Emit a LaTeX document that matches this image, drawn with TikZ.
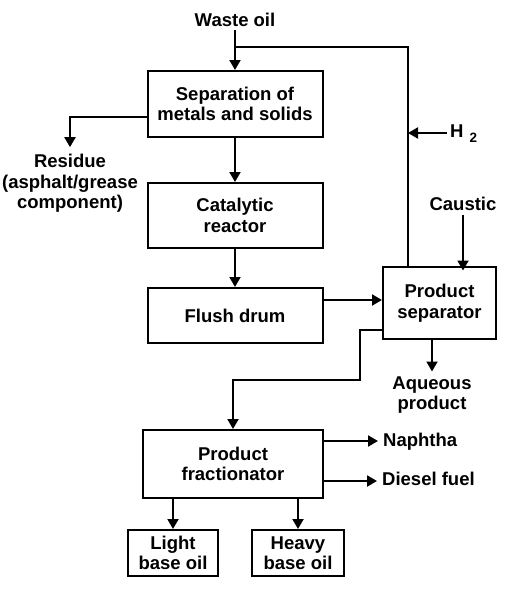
\documentclass[tikz,border=0pt]{standalone}
\usepackage{fontspec}
\setmainfont{Liberation Sans}
\usetikzlibrary{arrows.meta,positioning}
\newcommand{\flowfont}{\bfseries\fontsize{18.5}{20.5}\selectfont}
\tikzset{unitbox/.style={draw, line width=2pt, align=center, inner sep=0pt, minimum width=175pt, minimum height=65pt, font=\flowfont},
streamtext/.style={align=center, inner sep=0pt, font=\flowfont},
flowline/.style={line width=2pt},
flowarrow/.style={-{Triangle[length=10pt,width=11pt]}, line width=2pt},
outarrow/.style={flowarrow, shorten >=5pt}}

\begin{document}
\begin{tikzpicture}[x=1pt, y=-1pt]
\useasboundingbox (0,0) rectangle (510,600);
\node[unitbox, minimum height=66pt] (sepms) at (235,104) {Separation of\\metals and solids};
\node[unitbox, below=44pt of sepms] (reactor) {Catalytic\\reactor};
\node[unitbox, minimum height=55pt, below=38pt of reactor] (drum) {Flush drum};
\node[unitbox, minimum width=113pt, minimum height=72pt] (prodsep) at (439.5,303) {Product\\separator};
\node[unitbox, minimum width=180pt, minimum height=68pt] (frac) at (233,464) {Product\\fractionator};
\node[unitbox, minimum width=90pt, minimum height=46pt] (light) at (173,553) {Light\\base oil};
\node[unitbox, minimum width=92pt, minimum height=46pt, right=32pt of light] (heavy) {Heavy\\base oil};
\node[streamtext, anchor=base] (waste) at (235,26.5) {Waste oil};
\node[streamtext] (residue) at (70,183.5) {Residue\\(asphalt/grease\\component)};
\node[streamtext, anchor=base] (caustic) at (463,210.5) {Caustic};
\node[streamtext, anchor=base west] (h2) at (450,137) {H\hspace{6pt}\raisebox{-5pt}{\fontsize{13.5}{14}\selectfont 2}};
\node[streamtext, anchor=north] (aqueous) at (432,376.5) {Aqueous\\product};
\node[streamtext, anchor=base west] (naphtha) at (383,446) {Naphtha};
\node[streamtext, anchor=base west] (diesel) at (382,485) {Diesel fuel};
\coordinate (split) at (235,47);
\coordinate (riser) at ([xshift=26pt]prodsep.north west);
\coordinate (bend) at (360,380);
\draw[flowarrow] ([yshift=-3.5pt]waste.base) -- (sepms);
\draw[flowline] (split) -| (riser);
\draw[flowarrow] ([xshift=-3pt,yshift=4pt]h2.base west) coordinate (h2in) -- (h2in -| riser);
\draw[flowarrow] ([yshift=-13pt]sepms.west) -| ([yshift=7pt]residue.north);
\draw[flowarrow] (sepms) -- (reactor);
\draw[flowarrow] (reactor) -- (drum);
\draw[flowarrow] ([yshift=15.5pt]drum.east) -- ([yshift=15.5pt]drum.east -| prodsep.west);
\draw[flowarrow] ([yshift=-4.5pt]caustic.base) -- ([yshift=-4.5pt]caustic.base |- prodsep.north);
\draw[flowarrow] (aqueous.north |- prodsep.south) -- ([yshift=5pt]aqueous.north);
\draw[flowarrow] ([yshift=-27pt]prodsep.west) -| (bend) -| (frac.north);
\draw[outarrow] ([yshift=23pt]frac.east) -- ([yshift=23pt]frac.east -| naphtha.west);
\draw[outarrow] ([yshift=-17pt]frac.east) -- ([yshift=-17pt]frac.east -| diesel.west);
\draw[flowarrow] (light.north |- frac.south) -- (light.north);
\draw[flowarrow] (heavy.north |- frac.south) -- (heavy.north);
\end{tikzpicture}
\end{document}
